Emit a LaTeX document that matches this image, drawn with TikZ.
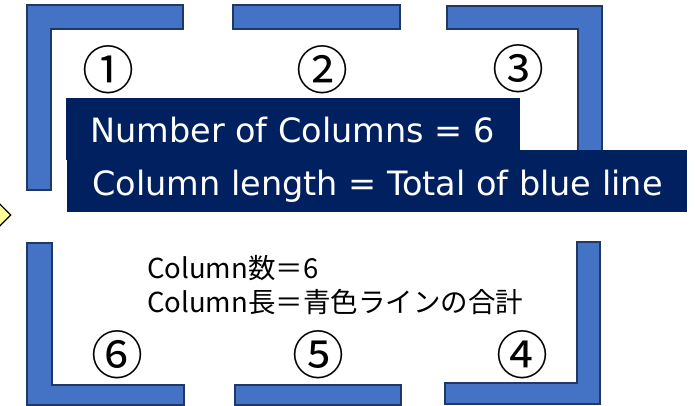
\documentclass[tikz,border=0pt]{standalone}
\usepackage{fontspec}
\usepackage{xcolor}
\usepackage{tikz}
\usetikzlibrary{shapes.geometric, positioning}
\setmainfont{DejaVu Sans}
\newfontfamily\jpfont{Noto Sans CJK JP}
\definecolor{barblue}{HTML}{4472C4}
\definecolor{barline}{HTML}{203864}
\definecolor{boxnavy}{HTML}{002060}
\definecolor{markyellow}{HTML}{FFFF99}

\begin{document}
\begin{tikzpicture}[
    x=1pt, y=-1pt,
    % ── Styles ──
    colbar/.style={fill=barblue, draw=barline, line width=1.4pt, line join=miter},
    navybox/.style={rectangle, fill=boxnavy, inner sep=0pt, anchor=north west},
    boxtext/.style={anchor=base west, inner sep=0pt, text=white,
                    font=\fontsize{33.5}{40}\selectfont},
    numlabel/.style={inner sep=0pt, font=\jpfont\fontsize{52}{52}\selectfont},
    jptext/.style={anchor=base west, inner sep=0pt, font=\jpfont\fontsize{27.5}{34}\selectfont},
    marker/.style={diamond, fill=markyellow, draw=black, line width=1.2pt,
                   inner sep=0pt, minimum width=22pt, minimum height=22pt}
]
\useasboundingbox (0,0) rectangle (695,406);

% ═══ Blue column lines ═══
\draw[colbar] (27,5) -- (183,5) -- (183,29) -- (51,29) -- (51,190) -- (27,190) -- cycle;
\draw[colbar] (233,5) rectangle (400,29);
\draw[colbar] (447,6) -- (602,6) -- (602,190) -- (578,190) -- (578,29) -- (447,29) -- cycle;
\draw[colbar] (577,242) -- (600,242) -- (600,404) -- (445,404) -- (445,383) -- (577,383) -- cycle;
\draw[colbar] (235,385) rectangle (401,405);
\draw[colbar] (27,243) -- (52,243) -- (52,385) -- (184,385) -- (184,405) -- (27,405) -- cycle;

% ═══ Column numbers ═══
\node[numlabel] (n1) at (108,70)  {①};
\node[numlabel] (n2) at (322,70)  {②};
\node[numlabel] (n3) at (518,69)  {③};
\node[numlabel] (n4) at (522,355) {④};
\node[numlabel] (n5) at (318,355) {⑤};
\node[numlabel] (n6) at (117,355) {⑥};

% ═══ Navy summary boxes ═══
\node[navybox, minimum width=454pt, minimum height=62pt] (box1) at (66,98) {};
\node[navybox, minimum width=620pt, minimum height=62pt] (box2) at (67,150) {};
\node[boxtext] (count) at (90,143) {Number of Columns = 6};
\node[boxtext] (length) at (92,195) {Column length = Total of blue line};

% ═══ Japanese notes ═══
\node[jptext] (jpcount)  at (147,278) {Column数＝6};
\node[jptext] (jplength) at (147,312) {Column長＝青色ラインの合計};

% ═══ Marker ═══
\node[marker] (mark) at (0,215) {};

\end{tikzpicture}
\end{document}
